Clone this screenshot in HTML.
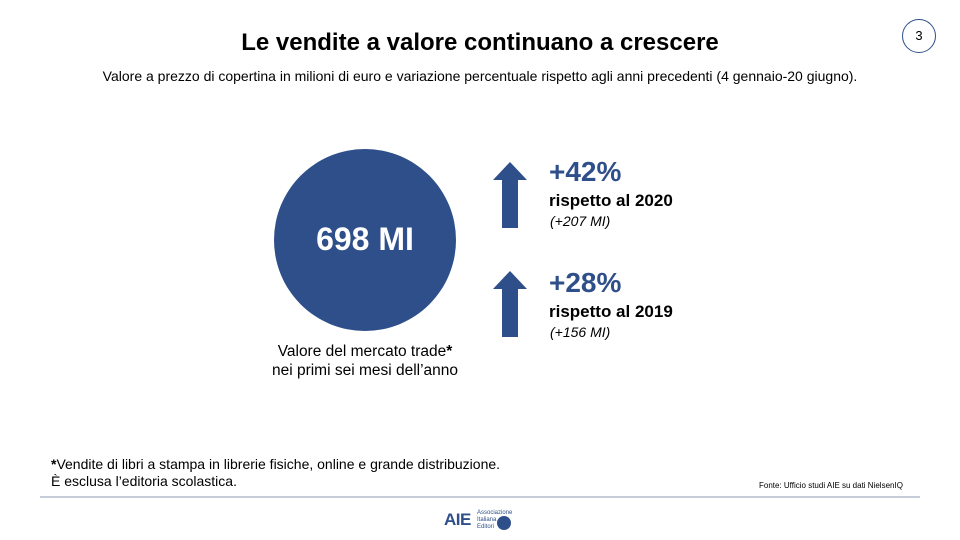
<!DOCTYPE html>
<html><head><meta charset="utf-8"><style>
body{margin:0;width:960px;height:540px;background:#fff;position:relative;overflow:hidden;font-family:"Liberation Sans",Arial,sans-serif;color:#000}
.a{position:absolute;white-space:nowrap}
</style></head><body>
<div class="a" style="left:0;width:960px;top:29px;text-align:center;font-size:24px;font-weight:bold">Le vendite a valore continuano a crescere</div>
<div class="a" style="left:0;width:960px;top:68px;text-align:center;font-size:14px">Valore a prezzo di copertina in milioni di euro e variazione percentuale rispetto agli anni precedenti (4 gennaio-20 giugno).</div>
<div class="a" style="left:902px;top:19px;width:34px;height:34px;border:1px solid #2f4f8a;border-radius:50%;box-sizing:border-box;text-align:center;line-height:32px;font-size:13px">3</div>
<svg class="a" style="left:0;top:0" width="960" height="540">
<circle cx="365" cy="240" r="91" fill="#2f4f8a"/>
<polygon points="510,162 527,180 518,180 518,228 502,228 502,180 493,180" fill="#2f4f8a"/>
<polygon points="510,271 527,289 518,289 518,337 502,337 502,289 493,289" fill="#2f4f8a"/>
<line x1="40" y1="497" x2="920" y2="497" stroke="#b4bccb" stroke-width="1.5"/>
<circle cx="504" cy="523" r="7" fill="#2f4f8a"/>
</svg>
<div class="a" style="left:274px;width:182px;top:221px;text-align:center;color:#fff;font-size:32px;font-weight:bold">698 MI</div>
<div class="a" style="left:240px;width:250px;top:342px;text-align:center;font-size:15.5px;line-height:19px">Valore del mercato trade<b>*</b><br>nei primi sei mesi dell’anno</div>
<div class="a" style="left:549px;top:156px;font-size:28px;font-weight:bold;color:#2f4f8a">+42%</div>
<div class="a" style="left:549px;top:191px;font-size:17px;font-weight:bold">rispetto al 2020</div>
<div class="a" style="left:550px;top:213px;font-size:14px;font-style:italic">(+207 MI)</div>
<div class="a" style="left:549px;top:267px;font-size:28px;font-weight:bold;color:#2f4f8a">+28%</div>
<div class="a" style="left:549px;top:302px;font-size:17px;font-weight:bold">rispetto al 2019</div>
<div class="a" style="left:550px;top:324px;font-size:14px;font-style:italic">(+156 MI)</div>
<div class="a" style="left:51px;top:456px;font-size:14px;line-height:17px"><b>*</b>Vendite di libri a stampa in librerie fisiche, online e grande distribuzione.<br>È esclusa l’editoria scolastica.</div>
<div class="a" style="left:759px;top:481px;font-size:8px">Fonte: Ufficio studi AIE su dati NielsenIQ</div>
<div class="a" style="left:444px;top:510px;font-size:17px;font-weight:bold;color:#2f4f8a;letter-spacing:-0.5px">AIE</div>
<div class="a" style="left:477px;top:510px;font-size:6px;line-height:7px;color:#2f4f8a">Associazione<br>Italiana<br>Editori</div>
</body></html>
